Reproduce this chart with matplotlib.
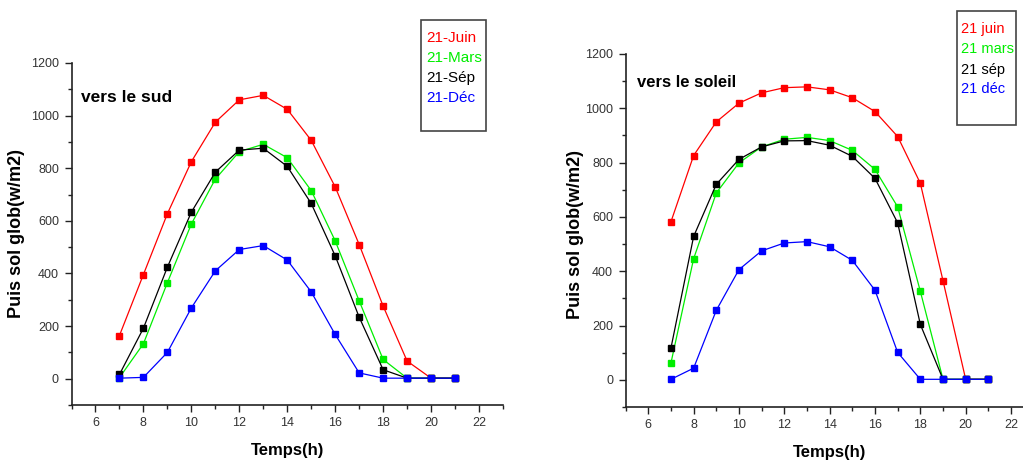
import matplotlib
matplotlib.use("Agg")
import matplotlib.pyplot as plt
from matplotlib.ticker import MultipleLocator
from matplotlib.patches import Rectangle

plt.rcParams['font.family'] = ['Liberation Sans', 'DejaVu Sans']

hours = [7, 8, 9, 10, 11, 12, 13, 14, 15, 16, 17, 18, 19, 20, 21]

# Panel 1: vers le sud
sud_juin = [164, 396, 627, 825, 975, 1060, 1077, 1024, 906, 729, 510, 276, 67, 2, 2]
sud_mars = [4, 133, 365, 588, 759, 863, 891, 840, 715, 524, 296, 73, 2, 2, 2]
sud_sep = [16, 192, 424, 633, 785, 869, 876, 807, 666, 467, 234, 34, 2, 2, 2]
sud_dec = [2, 5, 100, 269, 410, 491, 506, 451, 330, 168, 22, 2, 2, 2, 2]
sud_labels = ['21-Juin', '21-Mars', '21-Sép', '21-Déc']

# Panel 2: vers le soleil
sol_juin = [582, 826, 950, 1019, 1057, 1076, 1079, 1068, 1039, 988, 896, 724, 365, 2, 2]
sol_mars = [62, 446, 688, 799, 858, 886, 893, 881, 845, 775, 637, 326, 2, 2, 2]
sol_sep = [117, 528, 720, 812, 858, 880, 881, 864, 823, 742, 578, 204, 2, 2, 2]
sol_dec = [2, 43, 256, 406, 475, 504, 509, 490, 440, 330, 101, 2, 2, 2, 2]
sol_labels = ['21 juin', '21 mars', '21 sép', '21 déc']

colors = ['#ff0000', '#00ee00', '#000000', '#0000ff']

W, H = 1023, 462
fig = plt.figure(figsize=(W / 100, H / 100), dpi=100)

def px(x0, y0, x1, y1):
    return [x0 / W, 1 - y1 / H, (x1 - x0) / W, (y1 - y0) / H]

ax1 = fig.add_axes(px(71.5, 63, 503, 405))
ax2 = fig.add_axes(px(625.6, 54, 1033.7, 407))

panels = [
    (ax1, [sud_juin, sud_mars, sud_sep, sud_dec]),
    (ax2, [sol_juin, sol_mars, sol_sep, sol_dec]),
]

for ax, series in panels:
    for vals, c in zip(series, colors):
        ax.plot(hours, vals, color=c, lw=0.9, marker='s', ms=4.3,
                mec=c, mfc=c, clip_on=False)
    ax.set_xlim(5, 23)
    ax.set_ylim(-100, 1200)
    ax.xaxis.set_minor_locator(MultipleLocator(1))
    ax.yaxis.set_minor_locator(MultipleLocator(100))
    ax.set_xticks([6, 8, 10, 12, 14, 16, 18, 20, 22])
    ax.set_yticks([0, 200, 400, 600, 800, 1000, 1200])
    for s in ['top', 'right']:
        ax.spines[s].set_visible(False)
    for s in ['left', 'bottom']:
        ax.spines[s].set_linewidth(1.2)
        ax.spines[s].set_color('#222222')
    ax.tick_params(which='major', direction='out', length=5, width=1,
                   labelsize=9, labelcolor='#333333', color='#222222', pad=4)
    ax.tick_params(which='minor', direction='out', length=3, width=1,
                   color='#222222')
    ax.set_xlabel('Temps(h)', fontsize=12, fontweight='bold', labelpad=10)
    ax.set_ylabel('Puis sol glob(w/m2)', fontsize=13, fontweight='bold')
    ax.patch.set_alpha(0)

ax1.yaxis.set_label_coords(-0.108, 0.50)
ax2.yaxis.set_label_coords(-0.102, 0.49)

ax1.text(0.022, 0.90, 'vers le sud', transform=ax1.transAxes, fontsize=12.5,
         fontweight='bold', va='center', ha='left')
ax2.text(0.029, 0.92, 'vers le soleil', transform=ax2.transAxes, fontsize=12,
         fontweight='bold', va='center', ha='left')

# Manual legends (boxes with coloured text)
def legend_box(x0, y0, x1, y1, tx, rows, labels, size):
    r = Rectangle((x0 / W, 1 - y1 / H), (x1 - x0) / W, (y1 - y0) / H,
                  transform=fig.transFigure, fill=False, ec='#444444', lw=1.2)
    fig.patches.append(r)
    for lab, c, ry in zip(labels, colors, rows):
        fig.text(tx / W, 1 - ry / H, lab, color=c, fontsize=size,
                 ha='left', va='center')

legend_box(421, 20, 486, 131, 426, [38, 58, 78, 98], sud_labels, 11)
legend_box(957, 11, 1016, 125, 961, [29, 49, 70, 89], sol_labels, 10.5)

fig.savefig('out.png', dpi=100)
